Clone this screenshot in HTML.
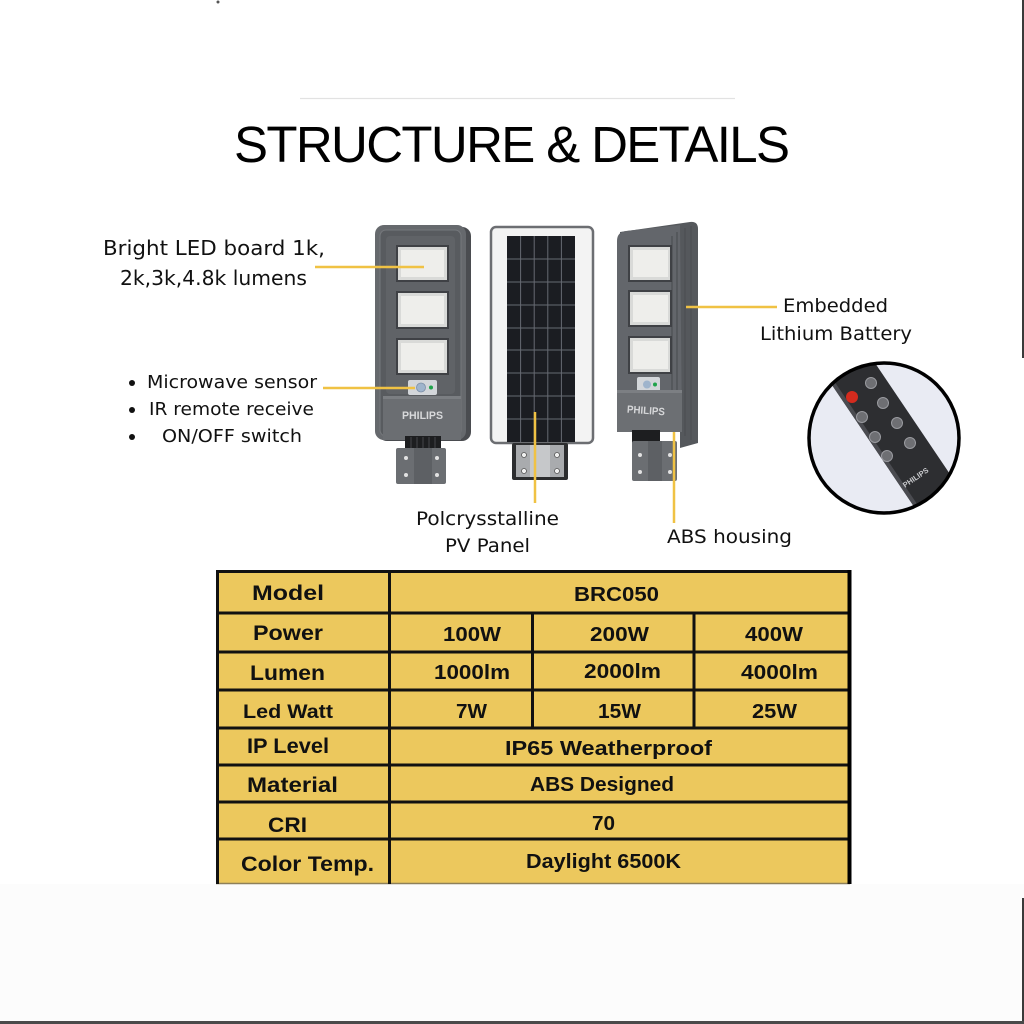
<!DOCTYPE html>
<html><head><meta charset="utf-8"><style>
html,body{margin:0;padding:0;background:#fff;}
svg{display:block}
</style></head><body>
<svg width="1024" height="1024" viewBox="0 0 1024 1024" xmlns="http://www.w3.org/2000/svg">
<defs>
  <clipPath id="cc"><circle cx="884" cy="438" r="75"/></clipPath>
</defs>
<rect width="1024" height="1024" fill="#ffffff"/>
<rect x="0" y="884" width="1024" height="140" fill="#fcfcfc"/>
<rect x="1022" y="0" width="2" height="358" fill="#3a3a3a"/>
<rect x="1022" y="898" width="2" height="126" fill="#3a3a3a"/>
<rect x="0" y="1021" width="1024" height="3" fill="#4a4a4a"/>
<circle cx="218" cy="2" r="1.5" fill="#555"/>

<!-- title -->
<line x1="300" y1="98.5" x2="735" y2="98.5" stroke="#e2e2e2" stroke-width="1.2"/>
<text x="234" y="162" font-family="Liberation Sans, sans-serif" font-size="51" textLength="556" lengthAdjust="spacing" fill="#000">STRUCTURE &amp; DETAILS</text>

<!-- ========== LAMP 1 ========== -->
<g>
  <rect x="378" y="227" width="93" height="214" rx="9" fill="#4a4c50"/>
  <rect x="375" y="225" width="91" height="215" rx="9" fill="#66696d"/>
  <rect x="380" y="230" width="81" height="206" rx="6" fill="#585b5f" stroke="#75787c" stroke-width="1"/>
  <rect x="386" y="236" width="69" height="158" rx="4" fill="#606367"/>
  <rect x="396" y="245" width="53" height="37" fill="#3f4145"/>
  <rect x="398" y="247" width="49" height="33" fill="#d9dad8"/>
  <rect x="401" y="250" width="43" height="27" fill="#eeeeeb"/>
  <rect x="396" y="291" width="53" height="38" fill="#3f4145"/>
  <rect x="398" y="293" width="49" height="34" fill="#d9dad8"/>
  <rect x="401" y="296" width="43" height="28" fill="#eeeeeb"/>
  <rect x="396" y="338" width="53" height="37" fill="#3f4145"/>
  <rect x="398" y="340" width="49" height="33" fill="#d9dad8"/>
  <rect x="401" y="343" width="43" height="27" fill="#eeeeeb"/>
  <rect x="408" y="380" width="29" height="15" rx="2" fill="#d3d6da"/>
  <circle cx="421" cy="387.5" r="4.5" fill="#9fb4cc" stroke="#7b8ea6" stroke-width="0.8"/>
  <circle cx="431" cy="387.5" r="2" fill="#1fa34a"/>
  <rect x="383" y="396" width="78" height="44" fill="#6b6e72"/>
  <rect x="383" y="396" width="78" height="3" fill="#7b7e82"/>
  <text x="402" y="419" font-family="Liberation Sans, sans-serif" font-weight="bold" font-size="11" textLength="41" lengthAdjust="spacingAndGlyphs" fill="#d8d9db">PHILIPS</text>
  <rect x="405" y="436" width="36" height="13" fill="#1d1e20"/>
  <g stroke="#45474a" stroke-width="1"><line x1="411" y1="437" x2="411" y2="449"/><line x1="417" y1="437" x2="417" y2="449"/><line x1="423" y1="437" x2="423" y2="449"/><line x1="429" y1="437" x2="429" y2="449"/><line x1="435" y1="437" x2="435" y2="449"/></g>
  <rect x="396" y="448" width="50" height="36" rx="2" fill="#6b6e72"/>
  <rect x="414" y="448" width="18" height="36" fill="#5d6064"/>
  <g fill="#e2e2e2"><circle cx="406" cy="458" r="2"/><circle cx="437" cy="458" r="2"/><circle cx="406" cy="475" r="2"/><circle cx="437" cy="475" r="2"/></g>
</g>

<!-- ========== LAMP 2 ========== -->
<g>
  <rect x="491" y="227" width="102" height="216" rx="5" fill="#f3f3f3" stroke="#6c6e72" stroke-width="2.5"/>
  <rect x="507" y="236" width="68" height="206" fill="#1b1d22"/>
  <g stroke="#666a72" stroke-width="1">
    <line x1="520.6" y1="236" x2="520.6" y2="442"/>
    <line x1="534.2" y1="236" x2="534.2" y2="442"/>
    <line x1="547.8" y1="236" x2="547.8" y2="442"/>
    <line x1="561.4" y1="236" x2="561.4" y2="442"/>
    <line x1="507" y1="259" x2="575" y2="259"/>
    <line x1="507" y1="282" x2="575" y2="282"/>
    <line x1="507" y1="305" x2="575" y2="305"/>
    <line x1="507" y1="328" x2="575" y2="328"/>
    <line x1="507" y1="350" x2="575" y2="350"/>
    <line x1="507" y1="373" x2="575" y2="373"/>
    <line x1="507" y1="396" x2="575" y2="396"/>
    <line x1="507" y1="419" x2="575" y2="419"/>
  </g>
  <rect x="512" y="443" width="56" height="37" rx="2" fill="#2c2d2f"/>
  <rect x="516" y="445" width="48" height="32" fill="#a9abae"/>
  <rect x="530" y="445" width="20" height="32" fill="#c6c8ca"/>
  <g fill="#f0f0f0" stroke="#555" stroke-width="0.8"><circle cx="524" cy="455" r="2.5"/><circle cx="557" cy="455" r="2.5"/><circle cx="524" cy="471" r="2.5"/><circle cx="557" cy="471" r="2.5"/></g>
</g>

<!-- ========== LAMP 3 ========== -->
<g>
  <path d="M620,232 L690,222 Q698,221 698,229 L698,443 L680,448 L680,432 L620,432 Z" fill="#55585c"/>
  <path d="M617,241 Q617,232 626,231 L680,225 L682,432 L617,432 Z" fill="#63666b"/>
  <g stroke="#4c4f53" stroke-width="1.2"><line x1="672" y1="236" x2="672" y2="392"/><line x1="677" y1="232" x2="677" y2="392"/><line x1="685" y1="228" x2="685" y2="436"/><line x1="691" y1="226" x2="691" y2="440"/></g>
  <rect x="628" y="245" width="44" height="37" fill="#3f4145"/>
  <rect x="630" y="247" width="40" height="33" fill="#d9dad8"/>
  <rect x="633" y="250" width="35" height="27" fill="#eeeeeb"/>
  <rect x="628" y="290" width="44" height="37" fill="#3f4145"/>
  <rect x="630" y="292" width="40" height="33" fill="#d9dad8"/>
  <rect x="633" y="295" width="35" height="27" fill="#eeeeeb"/>
  <rect x="628" y="336" width="44" height="38" fill="#3f4145"/>
  <rect x="630" y="338" width="40" height="34" fill="#d9dad8"/>
  <rect x="633" y="341" width="35" height="28" fill="#eeeeeb"/>
  <rect x="637" y="377" width="23" height="15" rx="2" fill="#d3d6da"/>
  <circle cx="647" cy="384.5" r="4" fill="#9fb4cc"/>
  <circle cx="655" cy="384.5" r="2" fill="#1fa34a"/>
  <rect x="617" y="390" width="65" height="42" fill="#6c6f73"/>
  <rect x="617" y="390" width="65" height="3" fill="#7c7f83"/>
  <text x="627" y="414" font-family="Liberation Sans, sans-serif" font-weight="bold" font-size="10.5" textLength="38" lengthAdjust="spacingAndGlyphs" fill="#d6d7d9" transform="rotate(4 646 410)">PHILIPS</text>
  <rect x="632" y="430" width="28" height="13" fill="#1d1e20"/>
  <rect x="632" y="441" width="45" height="40" rx="2" fill="#6b6e72"/>
  <rect x="648" y="441" width="14" height="40" fill="#5d6064"/>
  <g fill="#e2e2e2"><circle cx="640" cy="455" r="2"/><circle cx="670" cy="455" r="2"/><circle cx="640" cy="472" r="2"/><circle cx="670" cy="472" r="2"/></g>
</g>

<!-- ========== REMOTE ========== -->
<circle cx="884" cy="438" r="75" fill="#e9ebf3"/>
<g clip-path="url(#cc)">
  <rect x="874" y="280" width="48" height="320" fill="#2d2e31" transform="rotate(-34 898 440)"/>
  <rect x="874" y="280" width="4" height="320" fill="#4a4b50" transform="rotate(-34 898 440)"/>
  <circle cx="852" cy="397" r="6" fill="#d42b1e"/>
  <g fill="#6e6f73" stroke="#9a9ba0" stroke-width="1">
    <circle cx="871" cy="383" r="5.5"/><circle cx="883" cy="403" r="5.5"/><circle cx="862" cy="417" r="5.5"/>
    <circle cx="897" cy="423" r="5.5"/><circle cx="875" cy="437" r="5.5"/><circle cx="910" cy="443" r="5.5"/>
    <circle cx="887" cy="456" r="5.5"/>
  </g>
  <text x="916" y="480" text-anchor="middle" font-family="Liberation Sans, sans-serif" font-weight="bold" font-size="7.5" fill="#c9cacd" transform="rotate(-34 916 478)">PHILIPS</text>
</g>
<circle cx="884" cy="438" r="75" fill="none" stroke="#000" stroke-width="3.5"/>

<!-- ========== CONNECTORS ========== -->
<g stroke="#f0c244" stroke-width="2.5">
  <line x1="315" y1="267" x2="424" y2="267"/>
  <line x1="323" y1="388" x2="415" y2="388"/>
  <line x1="686" y1="307" x2="777" y2="307"/>
  <line x1="535" y1="412" x2="535" y2="503"/>
  <line x1="674" y1="432" x2="674" y2="523"/>
</g>

<!-- ========== LABELS ========== -->
<g font-family="DejaVu Sans, Liberation Sans, sans-serif" fill="#111">
  <text x="103" y="255" font-size="20" textLength="222" lengthAdjust="spacingAndGlyphs">Bright LED board  1k,</text>
  <text x="120" y="285" font-size="20" textLength="187" lengthAdjust="spacingAndGlyphs">2k,3k,4.8k lumens</text>
  <circle cx="132" cy="383" r="3"/>
  <circle cx="132" cy="410" r="3"/>
  <circle cx="132" cy="437" r="3"/>
  <text x="147" y="388" font-size="17.5" textLength="170" lengthAdjust="spacingAndGlyphs">Microwave sensor</text>
  <text x="149" y="415" font-size="17.5" textLength="165" lengthAdjust="spacingAndGlyphs">IR remote receive</text>
  <text x="162" y="442" font-size="17.5" textLength="140" lengthAdjust="spacingAndGlyphs">ON/OFF switch</text>
  <text x="783" y="312" font-size="19" textLength="105" lengthAdjust="spacingAndGlyphs">Embedded</text>
  <text x="760" y="340" font-size="19" textLength="152" lengthAdjust="spacingAndGlyphs">Lithium Battery</text>
  <text x="416" y="525" font-size="19" textLength="143" lengthAdjust="spacingAndGlyphs">Polcrysstalline</text>
  <text x="445" y="552" font-size="19" textLength="85" lengthAdjust="spacingAndGlyphs">PV Panel</text>
  <text x="667" y="543" font-size="19" textLength="125" lengthAdjust="spacingAndGlyphs">ABS  housing</text>
</g>

<!-- ========== TABLE ========== -->
<rect x="216" y="570" width="634" height="314" fill="#ecc85d"/>
<line x1="216" y1="883.5" x2="850" y2="883.5" stroke="#8e8058" stroke-width="1.5"/>
<g stroke="#111" stroke-width="3">
  <line x1="216" y1="571.5" x2="850" y2="571.5"/>
  <line x1="216" y1="613" x2="850" y2="613"/>
  <line x1="216" y1="652" x2="850" y2="652"/>
  <line x1="216" y1="690" x2="850" y2="690"/>
  <line x1="216" y1="728" x2="850" y2="728"/>
  <line x1="216" y1="765" x2="850" y2="765"/>
  <line x1="216" y1="802" x2="850" y2="802"/>
  <line x1="216" y1="839" x2="850" y2="839"/>
  <line x1="217.5" y1="570" x2="217.5" y2="884"/>
  <line x1="389.5" y1="570" x2="389.5" y2="884"/>
  <line x1="532.5" y1="613" x2="532.5" y2="728"/>
  <line x1="694" y1="613" x2="694" y2="728"/>
</g>
<line x1="849.5" y1="570" x2="849.5" y2="884" stroke="#000" stroke-width="4"/>

<g font-family="Liberation Sans, sans-serif" font-weight="bold" fill="#111">
  <text x="252" y="600" font-size="21" textLength="72" lengthAdjust="spacingAndGlyphs">Model</text>
  <text x="253" y="640" font-size="21" textLength="70" lengthAdjust="spacingAndGlyphs">Power</text>
  <text x="250" y="680" font-size="21" textLength="75" lengthAdjust="spacingAndGlyphs">Lumen</text>
  <text x="243" y="718" font-size="19" textLength="90" lengthAdjust="spacingAndGlyphs">Led Watt</text>
  <text x="247" y="753" font-size="21" textLength="82" lengthAdjust="spacingAndGlyphs">IP Level</text>
  <text x="247" y="792" font-size="21" textLength="91" lengthAdjust="spacingAndGlyphs">Material</text>
  <text x="268" y="832" font-size="21" textLength="39" lengthAdjust="spacingAndGlyphs">CRI</text>
  <text x="241" y="871" font-size="21" textLength="133" lengthAdjust="spacingAndGlyphs">Color Temp.</text>

  <text x="574" y="601" font-size="20" textLength="85" lengthAdjust="spacingAndGlyphs">BRC050</text>
  <text x="443" y="641" font-size="20" textLength="58" lengthAdjust="spacingAndGlyphs">100W</text>
  <text x="590" y="641" font-size="20" textLength="59" lengthAdjust="spacingAndGlyphs">200W</text>
  <text x="745" y="641" font-size="20" textLength="58" lengthAdjust="spacingAndGlyphs">400W</text>
  <text x="434" y="679" font-size="20" textLength="76" lengthAdjust="spacingAndGlyphs">1000lm</text>
  <text x="584" y="678" font-size="20" textLength="77" lengthAdjust="spacingAndGlyphs">2000lm</text>
  <text x="741" y="679" font-size="20" textLength="77" lengthAdjust="spacingAndGlyphs">4000lm</text>
  <text x="456" y="718" font-size="20" textLength="31" lengthAdjust="spacingAndGlyphs">7W</text>
  <text x="598" y="718" font-size="20" textLength="43" lengthAdjust="spacingAndGlyphs">15W</text>
  <text x="752" y="718" font-size="20" textLength="45" lengthAdjust="spacingAndGlyphs">25W</text>
  <text x="505" y="755" font-size="20" textLength="207" lengthAdjust="spacingAndGlyphs">IP65 Weatherproof</text>
  <text x="530" y="791" font-size="20" textLength="144" lengthAdjust="spacingAndGlyphs">ABS Designed</text>
  <text x="592" y="830" font-size="20" textLength="23" lengthAdjust="spacingAndGlyphs">70</text>
  <text x="526" y="868" font-size="20" textLength="155" lengthAdjust="spacingAndGlyphs">Daylight 6500K</text>
</g>
</svg>
</body></html>
